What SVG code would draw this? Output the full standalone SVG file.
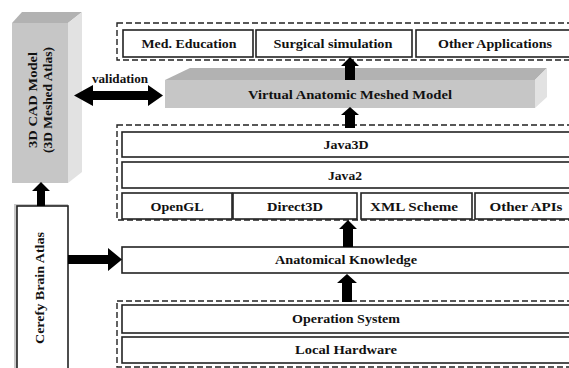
<svg xmlns="http://www.w3.org/2000/svg" width="569" height="368" viewBox="0 0 569 368">
<style>
.bg{fill:#ffffff}
.box{fill:#ffffff;stroke:#222;stroke-width:1.6}
.grp{fill:none;stroke:#222;stroke-width:1.4;stroke-dasharray:6 3}
.t{font-family:"Liberation Serif","Times New Roman",serif;font-size:13px;font-weight:bold;fill:#111;text-anchor:middle}
.front{fill:#c6c6c6}
.side{fill:#e2e2e2}
.top{fill:#b2b2b2}
.arr{fill:#000}
</style>
<rect class="bg" x="0" y="0" width="569" height="368"/>

<g id="cad-model">
  <polygon class="top" points="12,23 22,12 82,12 68,23"/>
  <polygon class="side" points="68,23 82,12 82,172 68,183"/>
  <rect class="front" x="12" y="23" width="56" height="160"/>
  <text class="t" font-size="14" transform="translate(37,100) rotate(-90)" textLength="96" lengthAdjust="spacingAndGlyphs">3D CAD Model</text>
  <text class="t" font-size="14" transform="translate(52,100) rotate(-90)" textLength="106" lengthAdjust="spacingAndGlyphs">(3D Meshed Atlas)</text>
</g>

<g id="cerefy">
  <rect x="14" y="204" width="54" height="170" fill="#c8c8c8"/>
  <rect class="box" x="17" y="206" width="51" height="166"/>
  <text class="t" font-size="14" transform="translate(44,288) rotate(-90)" textLength="112" lengthAdjust="spacingAndGlyphs">Cerefy Brain Atlas</text>
</g>

<g id="applications">
  <rect class="grp" x="117" y="23" width="460" height="37"/>
  <g id="med-education">
    <rect class="box" x="123" y="30" width="130" height="27"/>
    <text class="t" x="189" y="48" textLength="95" lengthAdjust="spacingAndGlyphs">Med. Education</text>
  </g>
  <g id="surgical-simulation">
    <rect class="box" x="256" y="30" width="156" height="27"/>
    <text class="t" x="333" y="48" textLength="119" lengthAdjust="spacingAndGlyphs">Surgical simulation</text>
  </g>
  <g id="other-applications">
    <rect class="box" x="416" y="30" width="160" height="27"/>
    <text class="t" x="495" y="48" textLength="114" lengthAdjust="spacingAndGlyphs">Other Applications</text>
  </g>
</g>

<g id="vamm">
  <polygon class="top" points="165,80 190,68 547,68 535,80"/>
  <polygon class="side" points="535,80 547,68 547,97 535,108"/>
  <rect class="front" x="165" y="80" width="370" height="28"/>
  <text class="t" x="350" y="99" textLength="204" lengthAdjust="spacingAndGlyphs">Virtual Anatomic Meshed Model</text>
</g>

<g id="java-layer">
  <rect class="grp" x="117" y="125" width="460" height="95"/>
  <g id="java3d">
    <rect class="box" x="122" y="132" width="454" height="25"/>
    <text class="t" x="346" y="149" textLength="45" lengthAdjust="spacingAndGlyphs">Java3D</text>
  </g>
  <g id="java2">
    <rect class="box" x="122" y="162" width="454" height="26"/>
    <text class="t" x="345" y="180" textLength="34" lengthAdjust="spacingAndGlyphs">Java2</text>
  </g>
  <g id="opengl">
    <rect class="box" x="122" y="193" width="110" height="26"/>
    <text class="t" x="177" y="211" textLength="53" lengthAdjust="spacingAndGlyphs">OpenGL</text>
  </g>
  <g id="direct3d">
    <rect class="box" x="233" y="193" width="124" height="26"/>
    <text class="t" x="295" y="211" textLength="56" lengthAdjust="spacingAndGlyphs">Direct3D</text>
  </g>
  <g id="xml-scheme">
    <rect class="box" x="361" y="193" width="111" height="26"/>
    <text class="t" x="414" y="211" textLength="88" lengthAdjust="spacingAndGlyphs">XML Scheme</text>
  </g>
  <g id="other-apis">
    <rect class="box" x="475" y="193" width="101" height="26"/>
    <text class="t" x="526" y="211" textLength="73" lengthAdjust="spacingAndGlyphs">Other APIs</text>
  </g>
</g>

<g id="anatomical-knowledge">
  <rect class="box" x="122" y="247" width="454" height="26"/>
  <text class="t" x="346" y="264" textLength="142" lengthAdjust="spacingAndGlyphs">Anatomical Knowledge</text>
</g>

<g id="system-layer">
  <rect class="grp" x="117" y="301" width="460" height="66"/>
  <g id="operation-system">
    <rect class="box" x="122" y="305" width="454" height="28"/>
    <text class="t" x="346" y="323" textLength="108" lengthAdjust="spacingAndGlyphs">Operation System</text>
  </g>
  <g id="local-hardware">
    <rect class="box" x="122" y="337" width="454" height="26"/>
    <text class="t" x="346" y="354" textLength="102" lengthAdjust="spacingAndGlyphs">Local Hardware</text>
  </g>
</g>

<g id="connectors">
  <polygon class="arr" points="350,57 359,66 355,66 355,80 345,80 345,66 341,66"/>
  <polygon class="arr" points="350,107 359,115 355,115 355,128 345,128 345,115 341,115"/>
  <polygon class="arr" points="348,220 357,229 353,229 353,247 343,247 343,229 339,229"/>
  <polygon class="arr" points="347,274 357,283 352,283 352,302 342,302 342,283 337,283"/>
  <polygon class="arr" points="41,182 50,191 45,191 45,206 37,206 37,191 32,191"/>
  <polygon class="arr" points="68,255 108,255 108,248 122,259.5 108,271 108,264 68,264"/>
  <polygon class="arr" points="74,95.5 93,85 93,91 148,91 148,85 163,95.5 148,106 148,100 93,100 93,106"/>
  <text class="t" x="120" y="83" font-size="11" textLength="56" lengthAdjust="spacingAndGlyphs">validation</text>
</g>
</svg>
